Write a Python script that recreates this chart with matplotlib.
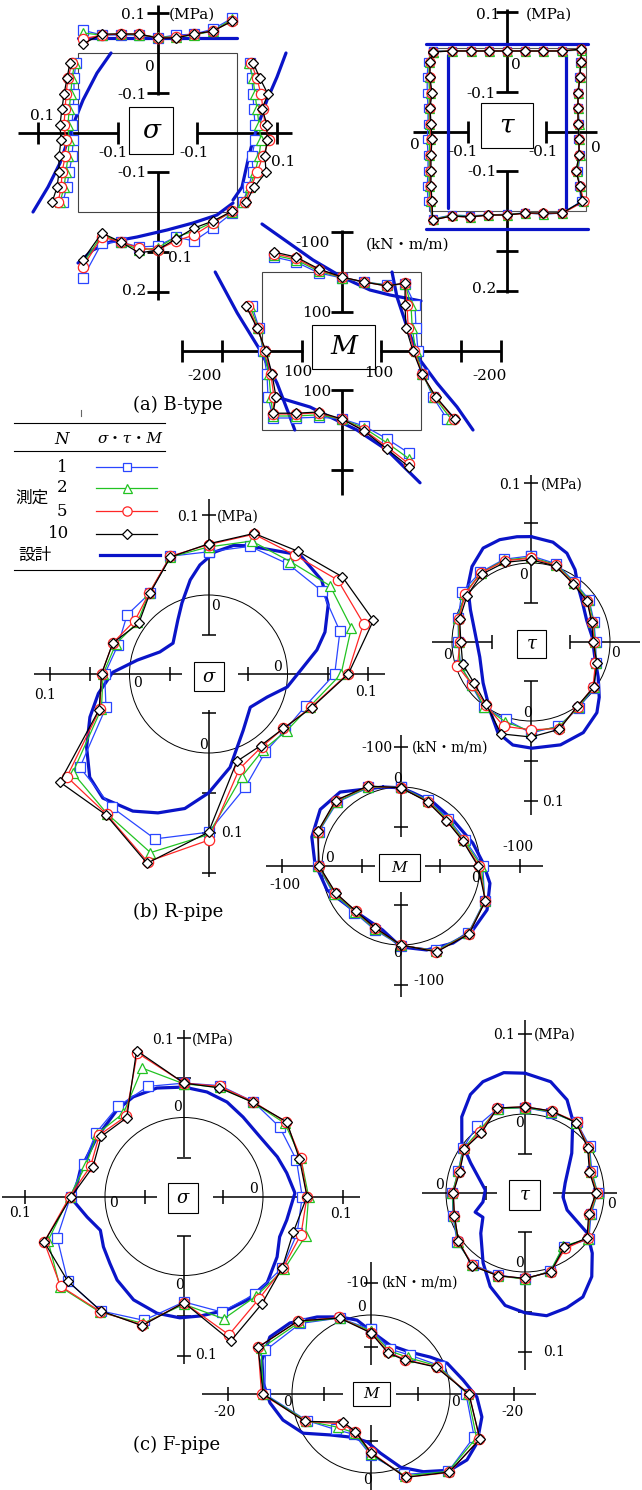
import numpy as np
import matplotlib
matplotlib.use("Agg")
import matplotlib.pyplot as plt
from matplotlib.patches import Rectangle, Circle

plt.rcParams['font.family'] = ['DejaVu Serif', 'Noto Sans CJK JP']

# ---------------- series styles (N = number of load cycles) ----------------
N_LIST = [1, 2, 5, 10]
COLORS = {1: '#2a46ff', 2: '#22c322', 5: '#ff2626', 10: '#000000'}
MARKERS = {1: 's', 2: '^', 5: 'o', 10: 'D'}
MSIZE = {1: 6.8, 2: 7.2, 5: 7.4, 10: 5.5}
DESIGN_COLOR = '#0a14c8'

# ---------------- (a) B-type box culvert ----------------
# gauge positions along a side (fraction of side length)
pos9 = [0.03, 0.15, 0.27, 0.385, 0.5, 0.615, 0.73, 0.85, 0.97]
pos10 = [0.06, 0.16, 0.26, 0.35, 0.45, 0.55, 0.65, 0.75, 0.845, 0.94]
pos8 = [0.03, 0.15, 0.265, 0.38, 0.5, 0.615, 0.73, 0.85]

# sigma (MPa), positive outward
bs_top = {1: [0.057, 0.045, 0.045, 0.045, 0.0375, 0.045, 0.047, 0.06, 0.087],
          2: [0.05, 0.045, 0.0475, 0.045, 0.04, 0.04, 0.045, 0.055, 0.085],
          5: [0.035, 0.045, 0.0475, 0.0475, 0.0375, 0.04, 0.0475, 0.055, 0.08],
          10: [0.0225, 0.0475, 0.0475, 0.0475, 0.0375, 0.0375, 0.0475, 0.055, 0.08]}
bs_left = {1: [0.005, 0.01, 0.01, 0.012, 0.015, 0.012, 0.015, 0.022, 0.028, 0.038],
           2: [0.008, 0.015, 0.018, 0.022, 0.025, 0.022, 0.025, 0.03, 0.035, 0.045],
           5: [0.015, 0.025, 0.03, 0.032, 0.035, 0.03, 0.032, 0.04, 0.042, 0.05],
           10: [0.02, 0.0275, 0.035, 0.04, 0.045, 0.0425, 0.0475, 0.0475, 0.0525, 0.065]}
bs_right = {1: [0.032, 0.0375, 0.04, 0.042, 0.045, 0.045, 0.0375, 0.04, 0.028, 0.015],
            2: [0.03, 0.04, 0.045, 0.05, 0.055, 0.06, 0.055, 0.045, 0.032, 0.015],
            5: [0.035, 0.05, 0.06, 0.065, 0.07, 0.08, 0.065, 0.05, 0.035, 0.02],
            10: [0.04, 0.0575, 0.0775, 0.0625, 0.075, 0.075, 0.07, 0.0725, 0.0425, 0.0225]}
bs_bottom = {1: [0.165, 0.0775, 0.075, 0.0875, 0.085, 0.0625, 0.0725, 0.04, 0.0025],
             2: [0.13, 0.0575, 0.075, 0.095, 0.09, 0.0625, 0.0475, 0.025, 0.0],
             5: [0.1375, 0.0625, 0.075, 0.09, 0.095, 0.0725, 0.0575, 0.0275, -0.0025],
             10: [0.12, 0.0525, 0.075, 0.1025, 0.095, 0.0675, 0.04, 0.0225, -0.0025]}
bs_des = {'top': ([0.0, 1.0], [0.0375, 0.0375]),
          'left': ([0, 0.126, 0.296, 0.421, 0.547, 0.692, 0.843, 1.0],
                   [-0.0825, -0.0475, -0.0125, 0.0075, 0.025, 0.045, 0.075, 0.1125]),
          'right': ([0, 0.151, 0.296, 0.421, 0.547, 0.673, 0.843, 0.925],
                    [0.1225, 0.1, 0.075, 0.0575, 0.04, 0.0275, 0.0125, -0.01]),
          'bottom': ([0, 0.094, 0.201, 0.371, 0.56, 0.723, 0.874, 0.975],
                     [0.1275, 0.095, 0.075, 0.0625, 0.045, 0.0275, 0.0075, -0.0225])}

# tau (MPa)
bt_top = {1: [0.0025, 0.003, 0.003, 0.003, 0.0025, 0.0025, 0.0025, 0.0025, 0.005],
          2: [0.001, 0.003, 0.0025, 0.003, 0.0025, 0.0025, 0.0025, 0.003, 0.006],
          5: [0.0, 0.003, 0.0025, 0.0025, 0.003, 0.0025, 0.0025, 0.003, 0.0075],
          10: [0.0, 0.0025, 0.0025, 0.0025, 0.0025, 0.0025, 0.0025, 0.0025, 0.0075]}
bt_left = {1: [0.0, 0.002, 0.002, 0.0, 0.0, 0.002, 0.0, 0.0, 0.002, 0.0],
           2: [-0.003, -0.002, -0.004, -0.002, -0.003, -0.004, -0.003, -0.003, -0.002, -0.004],
           5: [-0.005, -0.004, -0.008, -0.004, -0.006, -0.008, -0.006, -0.006, -0.006, -0.008],
           10: [-0.005, -0.005, -0.01, -0.005, -0.0075, -0.01, -0.0075, -0.0075, -0.0075, -0.01]}
bt_right = {1: [-0.015, -0.017, -0.02, -0.02, -0.017, -0.02, -0.015, -0.02, -0.017, -0.012],
            2: [-0.014, -0.016, -0.02, -0.02, -0.018, -0.018, -0.016, -0.022, -0.016, -0.008],
            5: [-0.0125, -0.016, -0.02, -0.02, -0.02, -0.0175, -0.017, -0.025, -0.015, -0.005],
            10: [-0.0125, -0.015, -0.02, -0.02, -0.02, -0.0175, -0.0175, -0.025, -0.015, -0.01]}
bt_bottom = {1: [0.02, 0.01, 0.012, 0.01, 0.008, 0.005, 0.008, 0.005],
             2: [0.021, 0.011, 0.014, 0.01, 0.009, 0.005, 0.007, 0.005],
             5: [0.0225, 0.0125, 0.016, 0.01, 0.01, 0.006, 0.006, 0.006],
             10: [0.0225, 0.0125, 0.015, 0.01, 0.01, 0.005, 0.005, 0.005]}
bt_des = {'top': ([-0.01, 1.01], [0.02, 0.02]),
          'bottom': ([-0.01, 1.01], [0.045, 0.045]),
          'left': ([0.02, 0.98], [-0.05, -0.05]),
          'right': ([0.02, 0.98], [-0.05, -0.05])}

# M (kN*m/m), negative outward
bm_top_pos = [0.075, 0.214, 0.358, 0.503, 0.642, 0.786, 0.9]
bm_right_pos = [0.209, 0.354, 0.5, 0.646, 0.791, 0.93]
bm_left_pos = [0.215, 0.354, 0.5, 0.646, 0.791]
bm_bottom_pos = [0.069, 0.214, 0.358, 0.503, 0.642, 0.786, 0.925]
bm_top = {1: [-37.5, -25, 2.5, 15, 25, 32, 30], 2: [-42, -30, -2, 14, 25, 33, 30],
          5: [-46, -34, -5, 13, 25, 35, 28], 10: [-50, -37.5, -7.5, 12.5, 25, 35, 27.5]}
bm_right = {1: [15, 12.5, 7.5, -5, -30, -65], 2: [25, 22, 13, -3, -33, -75],
            5: [35, 32, 17, -3, -36, -82], 10: [40, 37.5, 20, -2.5, -37.5, -85]}
bm_left = {1: [-25, -7.5, 2.5, 12.5, 15], 2: [-30, -9, 5, 17, 22],
           5: [-36, -11, 8, 22, 30], 10: [-40, -12.5, 10, 25, 35]}
bm_bottom = {1: [30, 30, 32, 27.5, 10, -22, -58], 2: [35, 35, 38, 27, 5, -32, -72],
             5: [40, 40, 43, 27, 0, -42, -85], 10: [42, 42, 45, 27.5, -2.5, -47.5, -92.5]}
bm_des = {'top': ([0, 0.321, 0.503, 0.679, 0.805, 1.0], [-120, -30, 12.5, 45, 57.5, 72.5]),
          'right': ([0, 0.158, 0.348, 0.557, 0.703, 0.854, 1.0], [72.5, 60, 35, 2.5, -40, -90, -130]),
          'left': ([0, 0.259, 0.494, 0.703, 0.918, 1.0], [-117, -62, -5, 37.5, 70, 82]),
          'bottom': ([0.113, 0.302, 0.428, 0.597, 0.786, 0.994], [80, 57.5, 32.5, 0, -50, -132])}

# ---------------- pipes: gauge angles (deg) ----------------
ang20 = [90, 72, 54, 36, 18, 0, -18, -36, -54, -72, -90, -108, -126, -144, -162,
         -180, -198, -216, -234, -252]
ang16 = [90, 67.5, 45, 22.5, 0, -22.5, -45, -67.5, -90, -112.5, -135, -157.5,
         -180, -202.5, -225, -247.5]

# (b) R-pipe
rs = {1: [0.054, 0.069, 0.071, 0.077, 0.074, 0.059, 0.029, 0.020, 0.022, 0.050,
          0.099, 0.118, 0.107, 0.100, 0.036, 0.031, 0.020, 0.027, 0.026, 0.056],
      2: [0.060, 0.076, 0.075, 0.089, 0.089, 0.067, 0.034, 0.022, 0.018, 0.036,
          0.102, 0.136, 0.117, 0.111, 0.042, 0.033, 0.023, 0.011, 0.027, 0.055],
      5: [0.063, 0.085, 0.085, 0.101, 0.105, 0.075, 0.036, 0.017, 0.014, 0.026,
          0.109, 0.148, 0.118, 0.120, 0.044, 0.035, 0.027, 0.015, 0.027, 0.056],
      10: [0.064, 0.086, 0.091, 0.108, 0.118, 0.076, 0.037, 0.017, 0.012, 0.016,
           0.099, 0.150, 0.119, 0.131, 0.045, 0.035, 0.027, 0.009, 0.026, 0.055]}
rs_des_ang = [72.8, 52.4, 39.6, 30, 19.8, 12.5, -9.4, -21.5, -38.5, -58.4, -77, -90, -100,
              -110, -118.9, -130.4, -139, -149, -160, -170, -181, -191, -204.4, -221,
              -240.5, -249.5, -259, -265.5, -273, -281]
rs_des = [0.069, 0.089, 0.085, 0.074, 0.056, 0.040, 0.001, -0.020, -0.032, -0.016, 0.021,
          0.050, 0.072, 0.086, 0.097, 0.105, 0.098, 0.079, 0.059, 0.041, 0.021, -0.008,
          -0.032, -0.040, -0.021, -0.004, 0.021, 0.038, 0.054, 0.065]

rt = {1: [0.009, 0.004, -0.006, -0.009, -0.016, -0.018, -0.013, -0.001, 0.003, 0.012,
          0.015, 0.003, 0.002, -0.007, -0.006, -0.008, -0.003, 0.008, 0.009, 0.010],
      2: [0.007, 0.003, -0.007, -0.010, -0.017, -0.019, -0.013, -0.002, 0.002, 0.013,
          0.013, 0.006, 0.001, -0.008, -0.005, -0.009, -0.003, 0.004, 0.008, 0.009],
      5: [0.006, 0.002, -0.008, -0.012, -0.018, -0.020, -0.014, -0.003, 0.001, 0.015,
          0.011, 0.012, -0.002, -0.008, -0.002, -0.010, -0.004, 0.003, 0.008, 0.008],
      10: [0.004, 0.001, -0.009, -0.012, -0.019, -0.021, -0.012, -0.002, 0.000, 0.016,
           0.020, 0.022, -0.003, -0.011, -0.009, -0.011, -0.005, 0.000, 0.006, 0.006]}
rt_des_ang = [90, 77.6, 68, 58.6, 49.5, 36.9, 21.4, 4.7, -13, -27.6, -39, -47, -60, -74,
              -89.5, -100, -110, -121, -139.5, -163.6, -189, -208, -221, -232, -243, -253,
              -262.4]
rt_des = [0.033, 0.029, 0.021, 0.007, -0.008, -0.018, -0.024, -0.022, -0.017, -0.004,
          0.011, 0.022, 0.032, 0.035, 0.034, 0.032, 0.022, 0.001, -0.020, -0.032, -0.028,
          -0.013, 0.006, 0.021, 0.033, 0.035, 0.034]

rm = {1: [0, 20, 30, 25, -7, -29, -40, -30, -2, 25, 33, 15, -10, -25, -28, -15],
      2: [1, 21, 33, 28, -3, -30, -41, -32, -1, 27, 35, 17, -9, -26, -30, -16],
      5: [2, 23, 36, 30, 2, -31, -42, -34, 0, 29, 37, 20, -8, -27, -33, -18],
      10: [2, 24, 37, 31, 5, -31, -43, -35, 0, 30, 38, 21, -7, -28, -34, -19]}
rm_des_ang = [102.8, 129.5, 145, 162, 178, 198, 222.5, 254, 270, 287, 304, 318.4, 333,
              349, 362, 377.7, 401.5, 423.4, 440.7, 450]
rm_des = [-5, -42, -49, -37, -18, 3, 35, 31, -5, -22, -35, -43, -44, -29, -8, 9, 24, 19,
          12, 2]

# (c) F-pipe
fs = {1: [0.043, 0.047, 0.048, 0.049, 0.049, 0.049, 0.050, 0.053, 0.052, 0.053,
          0.033, 0.064, 0.078, 0.081, 0.068, 0.043, 0.033, 0.037, 0.041, 0.046],
      2: [0.042, 0.045, 0.047, 0.057, 0.055, 0.057, 0.061, 0.056, 0.055, 0.062,
          0.036, 0.068, 0.080, 0.093, 0.080, 0.044, 0.030, 0.035, 0.030, 0.070],
      5: [0.043, 0.046, 0.048, 0.059, 0.055, 0.055, 0.055, 0.054, 0.060, 0.083,
          0.034, 0.070, 0.079, 0.092, 0.085, 0.044, 0.024, 0.032, 0.025, 0.090],
      10: [0.043, 0.044, 0.047, 0.060, 0.053, 0.055, 0.045, 0.053, 0.067, 0.091,
           0.034, 0.071, 0.078, 0.081, 0.085, 0.042, 0.021, 0.029, 0.023, 0.093]}
fs_des_ang = [90, 77.6, 65.5, 53.4, 38, 23, 12.9, 1.8, -12.9, -22.9, -33, -46, -58.7, -69,
              -82, -92, -103, -116, -128.7, -138, -148, -158, -168, -178, -194.3, -214.4,
              -232.2, -243, -256]
fs_des = [0.038, 0.035, 0.031, 0.025, 0.022, 0.028, 0.033, 0.040, 0.033, 0.031, 0.040,
          0.051, 0.053, 0.053, 0.052, 0.053, 0.051, 0.045, 0.035, 0.026, 0.020, 0.014,
          0.025, 0.040, 0.035, 0.033, 0.038, 0.041, 0.041]

ft = {1: [0.008, 0.007, 0.011, 0.001, -0.011, -0.008, -0.012, 0.000, -0.016, 0.004,
          0.009, 0.009, 0.012, 0.006, -0.004, -0.008, -0.011, -0.003, 0.004, 0.012],
      2: [0.008, 0.008, 0.010, 0.000, -0.012, -0.008, -0.013, -0.001, -0.017, 0.004,
          0.009, 0.010, 0.013, 0.005, -0.005, -0.008, -0.011, -0.004, -0.002, 0.012],
      5: [0.009, 0.009, 0.011, -0.001, -0.013, -0.009, -0.014, -0.002, -0.013, 0.005,
          0.008, 0.010, 0.013, 0.004, -0.006, -0.009, -0.012, -0.005, -0.004, 0.013],
      10: [0.009, 0.009, 0.010, -0.002, -0.014, -0.010, -0.015, -0.003, -0.015, 0.005,
           0.008, 0.010, 0.014, 0.004, -0.006, -0.009, -0.013, -0.005, -0.006, 0.013]}
ft_des_ang = [90, 77, 65.7, 56.7, 40.4, 14, -6, -22, -32.8, -41.8, -51.4, -60.9, -70, -80,
              -90, -100, -110.4, -121, -137.7, -150, -159, -168, -184.3, -209, -218.4,
              -230.3, -241, -249.3, -260]
ft_des = [0.051, 0.044, 0.029, 0.010, -0.022, -0.047, -0.051, -0.042, -0.006, 0.014,
          0.035, 0.050, 0.054, 0.057, 0.051, 0.044, 0.026, 0.003, -0.024, -0.038, -0.032,
          -0.045, -0.049, -0.021, 0.002, 0.025, 0.042, 0.050, 0.054]

fm = {1: [4.5, 9.5, 7.5, 1.5, -5, -10.2, -9.5, -2.5, 5.5, 11, 9, 3, -8.5, -11, -6.5, -1],
      2: [5, 10, 8.5, 2, -5.5, -11, -9.5, -3, 6, 11.5, 10, 2.8, -9, -12.5, -7, -1],
      5: [5.5, 10.5, 9.5, 2.5, -6, -12, -10, -3.5, 6.5, 12, 11.5, 2.5, -9.5, -13.5, -7.5, -1.2],
      10: [5.6, 10.8, 9.7, 2.7, -5.9, -12.2, -9.8, -3.5, 6.2, 12, 12.3, 2.3, -9, -13.5, -7.6, -1]}
fm_des_ang = [89, 100.7, 112, 125, 138.8, 150.6, 162.7, 174, 185, 196.5, 210, 225, 247.3,
              265.2, 279, 292, 304, 316, 325.5, 335.2, 348.3, 358.4, 368.7, 382, 392, 407,
              428.8]
fm_des = [5.3, 1.2, -1.3, -4.7, -9.0, -11.6, -11, -9.2, -7, -4, 0.2, 6.6, 10, 9.7, 6, 0,
          -4.6, -9.6, -11.7, -11.8, -10.7, -8.4, -4.4, -1, 2.9, 6.8, 8.3]

# ---------------- canvas ----------------
fig = plt.figure(figsize=(6.42, 14.90), dpi=100)
ax = fig.add_axes([0, 0, 1, 1])
ax.set_xlim(0, 642)
ax.set_ylim(1490, 0)
ax.axis('off')

R0 = 79  # zero-line radius of the pipe sections


def side_xy(box, side, pos, val, k):
    x0, y0, x1, y1 = box
    pos = np.asarray(pos, float)
    d = k * np.asarray(val, float)
    if side == 'top':
        return x0 + pos * (x1 - x0), y0 - d
    if side == 'bottom':
        return x0 + pos * (x1 - x0), y1 + d
    if side == 'left':
        return x0 - d, y0 + pos * (y1 - y0)
    return x1 + d, y0 + pos * (y1 - y0)


def ring_xy(c, k, ang, val, close=False):
    ang = list(ang)
    val = list(val)
    if close:
        ang, val = ang + ang[:1], val + val[:1]
    a = np.radians(ang)
    r = R0 + k * np.asarray(val, float)
    return c[0] + r * np.cos(a), c[1] - r * np.sin(a)


def arm(f, v0, v1, ticks, half, lw):
    p0, p1 = np.array(f(v0), float), np.array(f(v1), float)
    ax.plot([p0[0], p1[0]], [p0[1], p1[1]], color='black', lw=lw, zorder=2,
            solid_capstyle='butt')
    d = (p1 - p0) / np.hypot(*(p1 - p0))
    nrm = np.array([-d[1], d[0]])
    for t in ticks:
        p = np.array(f(t), float)
        ax.plot([p[0] - half * nrm[0], p[0] + half * nrm[0]],
                [p[1] - half * nrm[1], p[1] + half * nrm[1]],
                color='black', lw=lw, zorder=2, solid_capstyle='butt')


def series(x, y, n, scale=1.0):
    ax.plot(x, y, color=COLORS[n], lw=0.9, marker=MARKERS[n], ms=MSIZE[n] * scale,
            mfc='white', mec=COLORS[n], mew=0.9, zorder=4 + N_LIST.index(n))


def design(x, y):
    ax.plot(x, y, color=DESIGN_COLOR, lw=2.3, zorder=3, solid_joinstyle='round',
            solid_capstyle='round')


def label_box(x0, y0, x1, y1, s, size, style='italic'):
    ax.add_patch(Rectangle((x0, y0), x1 - x0, y1 - y0, fill=True, fc='white',
                           ec='black', lw=0.8, zorder=8))
    ax.text((x0 + x1) / 2, (y0 + y1) / 2, s, fontsize=size, style=style,
            ha='center', va='center', zorder=9)


def texts(items, size):
    for it in items:
        x, y, s = it[:3]
        ha = it[3] if len(it) > 3 else 'center'
        ax.text(x, y, s, fontsize=size, ha=ha, va='center', zorder=9)


# ---------------- (a) B-type ----------------
box_s = (78, 53, 237, 212)
ax.add_patch(Rectangle((78, 53), 159, 159, fill=False, ec='#444444', lw=0.8, zorder=1))
for side, v0, v1, tk in [('top', 0.12, -0.105, [0.1, -0.1]), ('left', 0.15, -0.1, [0.1, -0.1]),
                         ('right', -0.1, 0.1375, [-0.1, 0.1]),
                         ('bottom', -0.1, 0.22, [-0.1, 0.1, 0.2])]:
    arm(lambda v, s=side: side_xy(box_s, s, 0.5, v, 400), v0, v1, tk, 11, 2.0)
for side, (p, v) in bs_des.items():
    design(*side_xy(box_s, side, p, v, 400))
for n in N_LIST:
    series(*side_xy(box_s, 'top', pos9, bs_top[n], 400), n)
    series(*side_xy(box_s, 'left', pos10, bs_left[n], 400), n)
    series(*side_xy(box_s, 'right', pos10, bs_right[n], 400), n)
    series(*side_xy(box_s, 'bottom', pos9, bs_bottom[n], 400), n)
label_box(129, 107, 173, 154, 'σ', 19)
texts([(145, 15, '0.1', 'right'), (169, 15, '(MPa)', 'left'), (150, 67, '0'),
       (147, 95, '-0.1', 'right'), (42, 116, '0.1'), (113, 153, '-0.1'),
       (194, 153, '-0.1'), (283, 162, '0.1'), (147, 173, '-0.1', 'right'),
       (168, 258, '0.1', 'left'), (146, 291, '0.2', 'right')], 11)

box_t = (428, 52, 586, 211)
ax.add_patch(Rectangle((429, 48), 157, 163, fill=False, ec='#555555', lw=0.8, zorder=1))
for side, v0, v1, tk in [('top', 0.1075, -0.1, [0.1, -0.1]), ('left', 0.0375, -0.1, [-0.1]),
                         ('right', -0.1, 0.0275, [-0.1]),
                         ('bottom', -0.1, 0.205, [-0.1, 0.1, 0.2])]:
    arm(lambda v, s=side: side_xy(box_t, s, 0.5, v, 400), v0, v1, tk, 11, 2.0)
for side, (p, v) in bt_des.items():
    design(*side_xy(box_t, side, p, v, 400))
for n in N_LIST:
    xt, yt = side_xy(box_t, 'top', pos9, bt_top[n], 400)
    xr, yr = side_xy(box_t, 'right', pos10, bt_right[n], 400)
    xb, yb = side_xy(box_t, 'bottom', pos8, bt_bottom[n], 400)
    xl, yl = side_xy(box_t, 'left', pos10, bt_left[n], 400)
    x = np.concatenate([xt, xr, xb[::-1], xl[::-1], xt[:1]])
    y = np.concatenate([yt, yr, yb[::-1], yl[::-1], yt[:1]])
    series(x, y, n, 0.9)
label_box(481, 103, 533, 148, 'τ', 19)
texts([(500, 15, '0.1', 'right'), (526, 15, '(MPa)', 'left'), (516, 65, '0'),
       (496, 94, '-0.1', 'right'), (415, 145, '0'), (463, 152, '-0.1'),
       (543, 152, '-0.1'), (596, 148, '0'), (497, 172, '-0.1', 'right'),
       (496, 289, '0.2', 'right')], 11)

box_m = (262, 272, 421, 430)
ax.add_patch(Rectangle((262, 272), 159, 158, fill=False, ec='#444444', lw=0.8, zorder=1))
for side, v0, v1, tk in [('top', -105, 100, [-100, 100]), ('left', -200, 102.5, [-200, -100, 100]),
                         ('right', 102.5, -200, [100, -100, -200]),
                         ('bottom', 100, -162, [100, -100])]:
    arm(lambda v, s=side: side_xy(box_m, s, 0.5, v, -0.4), v0, v1, tk, 11, 2.0)
for side, (p, v) in bm_des.items():
    design(*side_xy(box_m, side, p, v, -0.4))
for n in N_LIST:
    xt, yt = side_xy(box_m, 'top', bm_top_pos, bm_top[n], -0.4)
    xr, yr = side_xy(box_m, 'right', bm_right_pos, bm_right[n], -0.4)
    series(np.concatenate([xt, xr]), np.concatenate([yt, yr]), n)
    xl, yl = side_xy(box_m, 'left', bm_left_pos, bm_left[n], -0.4)
    xb, yb = side_xy(box_m, 'bottom', bm_bottom_pos, bm_bottom[n], -0.4)
    series(np.concatenate([xl, xb]), np.concatenate([yl, yb]), n)
label_box(312, 325, 375, 369, 'M', 19)
texts([(330, 243, '-100', 'right'), (366, 245, '(kN・m/m)', 'left'),
       (331, 313, '100', 'right'), (205, 376, '-200'), (298, 372, '100'),
       (379, 373, '100'), (490, 376, '-200'), (331, 392, '100', 'right')], 11)
ax.text(133, 405, '(a) B-type', fontsize=13, ha='left', va='center')

# ---------------- legend ----------------
for yl_ in [423, 451, 570]:
    ax.plot([14, 165], [yl_, yl_], color='black', lw=0.8)
ax.plot([81, 81], [410, 416], color='#666666', lw=0.8)
ax.text(62, 439, 'N', fontsize=12, style='italic', ha='center', va='center')
ax.text(130, 439, 'σ・τ・M', fontsize=11, style='italic', ha='center', va='center')
for n, yy in zip(N_LIST, [467, 488, 511, 534]):
    ax.text(62 if n < 10 else 59, yy, str(n), fontsize=12, ha='center', va='center')
    ax.plot([96, 157], [yy, yy], color=COLORS[n], lw=0.9)
    ax.plot([127], [yy], color=COLORS[n], marker=MARKERS[n], ms=MSIZE[n] * 0.9,
            mfc='white', mec=COLORS[n], mew=0.9)
ax.text(32, 498, '測定', fontsize=12, ha='center', va='center', family='Noto Sans CJK JP')
ax.text(35, 555, '設計', fontsize=12, ha='center', va='center', family='Noto Sans CJK JP')
ax.plot([100, 160], [555, 555], color=DESIGN_COLOR, lw=2.3)


def pipe(c, k, ang_m, meas, ang_d, des, arms, box, sym, sym_size):
    ax.add_patch(Circle(c, R0, fill=False, ec='black', lw=0.7, zorder=1))
    for a, v0, v1, tk in arms:
        arm(lambda v, a=a: ring_xy(c, k, [a], [v]), v0, v1, tk, 7, 1.1)
    design(*ring_xy(c, k, ang_d, des, close=True))
    for n in N_LIST:
        series(*ring_xy(c, k, ang_m, meas[n], close=True), n)
    label_box(*box, sym, sym_size)


# ---------------- (b) R-pipe ----------------
pipe((208.5, 674), 800, ang20, rs, rs_des_ang, rs_des,
     [(90, -0.05, 0.12, [-0.05, 0.1]), (180, -0.066, 0.12, [-0.05, 0.05, 0.1]),
      (0, -0.062, 0.122, [-0.05, 0.05, 0.1]), (-90, -0.054, 0.155, [-0.05, 0.05, 0.1, 0.15])],
     (194, 662, 224, 691), 'σ', 13)
texts([(199, 517, '0.1', 'right'), (217, 517, '(MPa)', 'left'), (215, 606, '0'),
       (138, 683, '0'), (277, 667, '0'), (204, 745, '0'), (45, 695, '0.1'),
       (366, 692, '0.1'), (221, 833, '0.1', 'left')], 10)

pipe((531, 642), 800, ang20, rt, rt_des_ang, rt_des,
     [(90, -0.05, 0.11, [-0.05, 0.05, 0.1]), (-90, -0.05, 0.1175, [-0.05, 0.05, 0.1]),
      (180, -0.05, 0.025, [-0.05]), (0, -0.05, 0.0375, [-0.05])],
     (517, 630, 546, 658), 'τ', 13)
texts([(521, 485, '0.1', 'right'), (541, 485, '(MPa)', 'left'), (524, 575, '0'),
       (448, 655, '0'), (616, 653, '0'), (527, 713, '0'), (542, 802, '0.1', 'left')], 10)

pipe((401, 866), -0.4, ang16, rm, rm_des_ang, rm_des,
     [(90, 125, -130, [100, -100]), (180, 132, -140, [100, -100]),
      (0, 137, -157, [100, -100]), (-90, 132, -130, [100, -100])],
     (379, 854, 420, 881), 'M', 11)
texts([(392, 748, '-100', 'right'), (412, 748, '(kN・m/m)', 'left'), (397, 779, '0'),
       (330, 858, '0'), (285, 885, '-100'), (518, 847, '-100'), (475, 878, '0'),
       (397, 953, '0'), (413, 981, '-100', 'left')], 10)
ax.text(133, 912, '(b) R-pipe', fontsize=13, ha='left', va='center')

# ---------------- (c) F-pipe ----------------
pipe((184, 1196.5), 800, ang20, fs, fs_des_ang, fs_des,
     [(90, -0.049, 0.109, [-0.05, 0.05, 0.1]), (180, -0.065, 0.129, [-0.05, 0.1]),
      (0, -0.0625, 0.121, [-0.05, 0.1]), (-90, -0.05, 0.11, [-0.05, 0.05, 0.1])],
     (168, 1183, 198, 1213), 'σ', 13)
texts([(174, 1040, '0.1', 'right'), (192, 1040, '(MPa)', 'left'), (178, 1107, '0'),
       (113, 1203, '0'), (253, 1189, '0'), (179, 1285, '0'), (20, 1213, '0.1'),
       (341, 1214, '0.1'), (195, 1355, '0.1', 'left')], 10)

pipe((525, 1193), 800, ang20, ft, ft_des_ang, ft_des,
     [(90, -0.05, 0.1175, [-0.05, 0.1]), (-90, -0.05, 0.1225, [-0.05, 0.05, 0.1]),
      (180, -0.064, 0.03, [-0.05]), (0, -0.064, 0.016, [-0.05])],
     (509, 1180, 540, 1210), 'τ', 13)
texts([(515, 1035, '0.1', 'right'), (534, 1035, '(MPa)', 'left'), (519, 1123, '0'),
       (440, 1185, '0'), (611, 1204, '0'), (520, 1263, '0'), (543, 1352, '0.1', 'left')], 10)

pipe((371, 1394), -3.2, ang16, fm, fm_des_ang, fm_des,
     [(90, 15.6, -16.5, [10, -10]), (180, 16, -28, [10, -20]),
      (0, 17, -27, [10, -20]), (-90, 15, -8, [10])],
     (353, 1382, 390, 1406), 'M', 11)
texts([(369, 1283, '-10', 'right'), (382, 1283, '(kN・m/m)', 'left'), (362, 1307, '0'),
       (288, 1402, '0'), (456, 1402, '0'), (367, 1480, '0'), (225, 1412, '-20'),
       (512, 1412, '-20')], 10)
ax.text(133, 1445, '(c) F-pipe', fontsize=13, ha='left', va='center')

fig.savefig('out.png', dpi=100, facecolor='white')
